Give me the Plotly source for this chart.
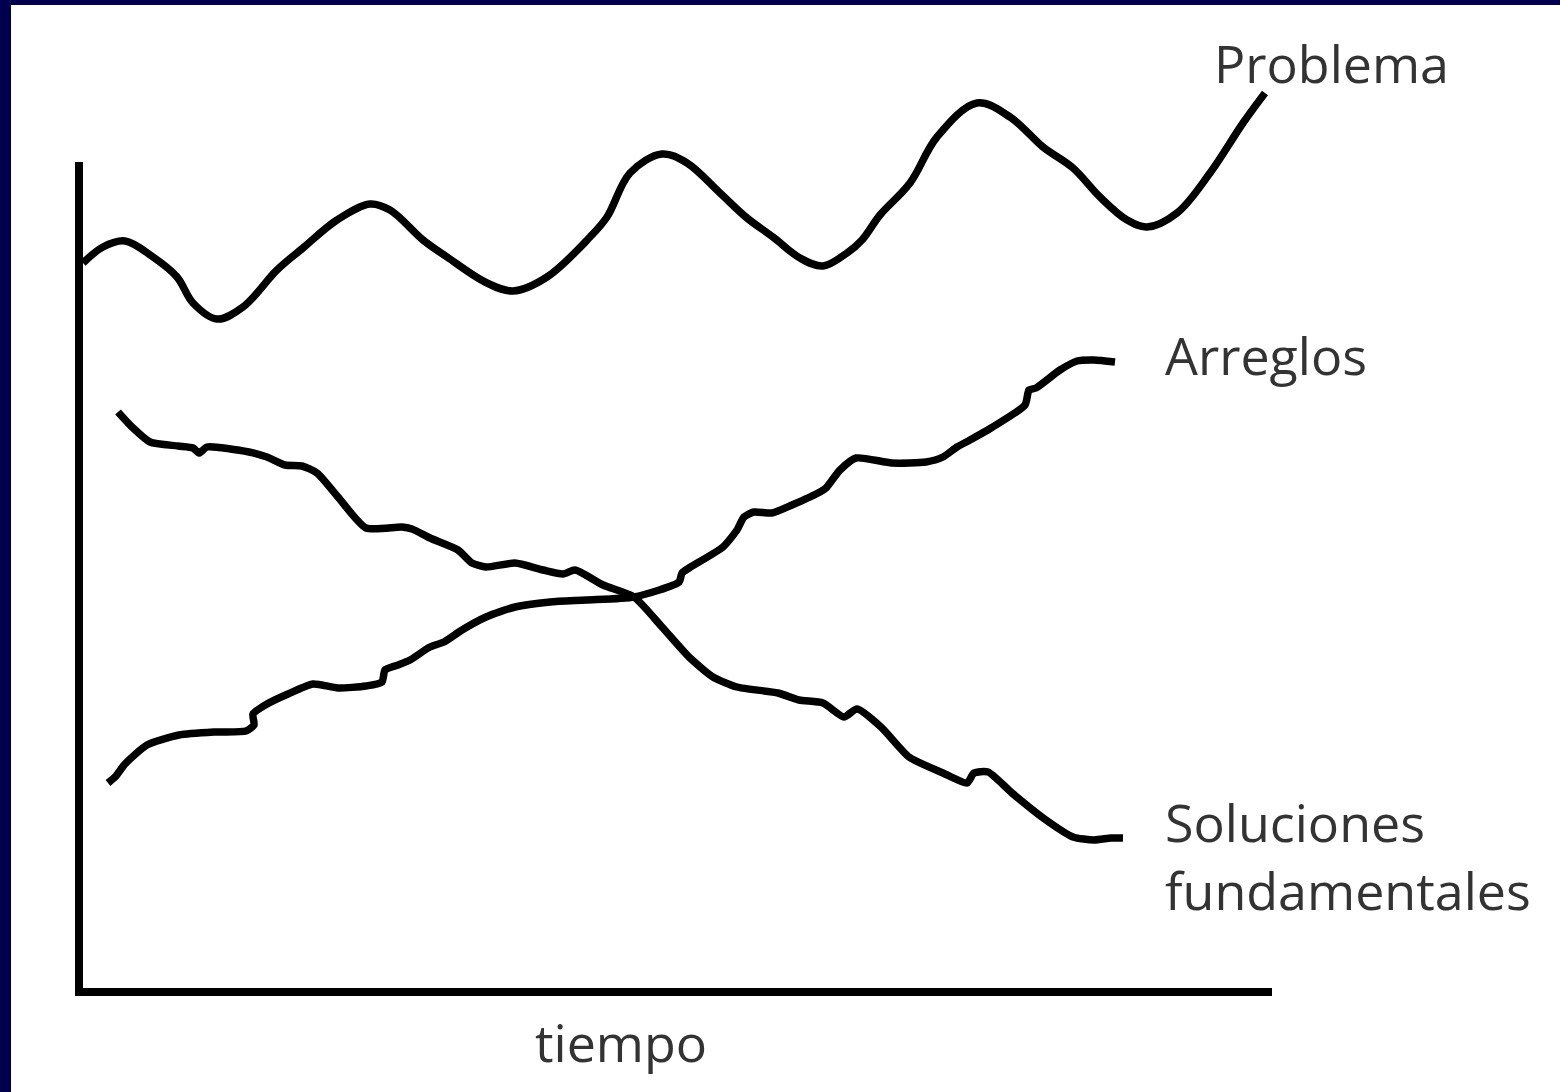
import plotly.graph_objects as go

# ---- data (time t, level v), origin at the axes corner ----
problema_t = [4, 24, 46, 74, 98, 114, 138, 164, 198, 224, 258, 291, 311, 344, 368, 408, 434, 468,
              511, 528, 551, 583, 608, 641, 668, 694, 721, 744, 768, 783, 801, 831, 858, 898, 931,
              964, 994, 1021, 1048, 1068, 1098, 1131, 1164, 1186]
problema_v = [729, 745, 751, 735, 715, 689, 673, 685, 722, 744, 772, 788, 782, 752, 735, 709, 701, 715,
              755, 775, 819, 838, 829, 799, 774, 755, 734, 726, 739, 752, 777, 809, 855, 889, 875,
              845, 824, 795, 772, 765, 779, 819, 869, 899]

arreglos_t = [29, 37, 46, 68, 100, 135, 167, 175, 174, 188, 209, 234, 259, 287, 303, 306, 319, 331,
              351, 365, 383, 407, 436, 471, 507, 555, 600, 603, 610, 644, 658, 665, 675, 693, 713,
              741, 747, 761, 777, 813, 847, 864, 878, 891, 912, 946, 950, 957, 981, 998, 1015, 1036]
arreglos_v = [209, 216, 228, 247, 257, 260, 261, 267, 278, 288, 298, 308, 304, 306, 310, 322, 327, 332,
              345, 350, 362, 375, 385, 390, 392, 395, 410, 419, 424, 445, 462, 475, 480, 479, 487,
              500, 504, 522, 534, 529, 530, 535, 545, 552, 564, 587, 602, 604, 622, 631, 632, 630]

soluciones_t = [39, 53, 71, 99, 114, 120, 128, 170, 188, 206, 223, 238, 259, 287, 323, 333, 351, 379,
                393, 407, 436, 464, 484, 496, 524, 555, 583, 610, 634, 658, 699, 720, 744, 765, 778,
                802, 830, 864, 888, 895, 909, 933, 967, 994, 1015, 1032, 1044]
soluciones_v = [580, 565, 550, 546, 544, 539, 545, 540, 535, 527, 526, 519, 495, 464, 465, 463, 454, 442,
                429, 425, 429, 422, 418, 422, 407, 395, 365, 335, 315, 305, 299, 292, 289, 275, 283,
                265, 235, 219, 209, 219, 220, 199, 172, 155, 152, 154, 154]

labels = ["Problema", "Arreglos", "Soluciones<br>fundamentales"]
axis_title = "tiempo"

INK = "#000000"
TEXT = "#333333"
NAVY = "#00004f"
FONT = "Open Sans"

fig = go.Figure()
for tx, vy, sm in [(problema_t, problema_v, 1.0),
                   (arreglos_t, arreglos_v, 0.6),
                   (soluciones_t, soluciones_v, 0.6)]:
    fig.add_trace(go.Scatter(x=tx, y=vy, mode="lines",
                             line=dict(color=INK, width=7.5, shape="spline", smoothing=sm),
                             hoverinfo="skip", showlegend=False))

# axes drawn as L
fig.add_shape(type="line", x0=0, x1=0, y0=-3, y1=830, xref="x", yref="y",
              line=dict(color=INK, width=8))
fig.add_shape(type="line", x0=-4, x1=1193, y0=0, y1=0, xref="x", yref="y",
              line=dict(color=INK, width=8))

# navy frame (left and top edges)
fig.add_shape(type="rect", xref="paper", yref="paper", x0=0, x1=11/1560, y0=0, y1=1,
              fillcolor=NAVY, line=dict(width=0), layer="above")
fig.add_shape(type="rect", xref="paper", yref="paper", x0=0, x1=1, y0=1 - 5/1092, y1=1,
              fillcolor=NAVY, line=dict(width=0), layer="above")

ann_font = dict(family=FONT, size=52, color=TEXT)
fig.add_annotation(x=problema_t[-1] - 53, y=930, text=labels[0], showarrow=False,
                   xanchor="left", yanchor="middle", font=ann_font)
fig.add_annotation(x=1084, y=638, text=labels[1], showarrow=False,
                   xanchor="left", yanchor="middle", font=ann_font)
fig.add_annotation(x=1084, y=137, text=labels[2], showarrow=False, align="left",
                   xanchor="left", yanchor="middle", font=ann_font)
fig.add_annotation(x=542, y=-49, text=axis_title, showarrow=False,
                   xanchor="center", yanchor="middle", font=ann_font)

fig.update_layout(
    width=1560, height=1092,
    margin=dict(l=0, r=0, t=0, b=0),
    paper_bgcolor="white", plot_bgcolor="white",
    xaxis=dict(range=[-79, 1481], visible=False, fixedrange=True),
    yaxis=dict(range=[-100, 992], visible=False, fixedrange=True),
)

fig.write_html("out.html", config={"displayModeBar": False},
               post_script="document.body.style.margin='0';document.body.style.overflow='hidden';")
